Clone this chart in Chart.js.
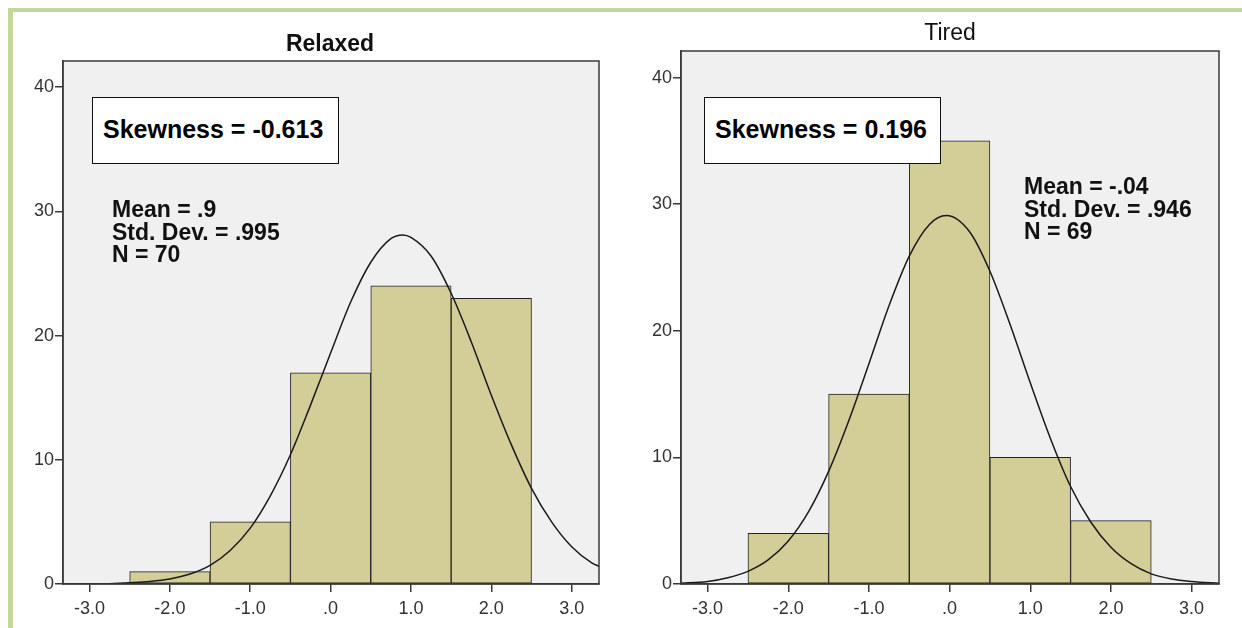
<!DOCTYPE html>
<html>
<head>
<meta charset="utf-8">
<script src="https://cdn.jsdelivr.net/npm/chart.js@4/dist/chart.umd.min.js"></script>
<style>
  html, body { margin: 0; padding: 0; background: #ffffff; }
  body { width: 1242px; height: 628px; position: relative; overflow: hidden; font-family: "Liberation Sans", Arial, sans-serif; }
  canvas { position: absolute; top: 0; }
  #c1 { left: 0; }
  #c2 { left: 620px; }
  .gline { position: absolute; background: #c4d79b; }
  .title { position: absolute; font-size: 23px; line-height: 26px; color: #111; text-align: center; width: 200px; }
  .skew { position: absolute; background: #fff; border: 1.5px solid #111; box-sizing: border-box; font-weight: bold; font-size: 25px; color: #000; line-height: 63px; padding-left: 10px; white-space: nowrap; }
  .stats { position: absolute; font-weight: bold; font-size: 23px; line-height: 22.7px; color: #111; white-space: nowrap; }
</style>
</head>
<body>
<div class="gline" style="left:8px; top:8px; width:1234px; height:4px;"></div>
<div class="gline" style="left:8px; top:8px; width:5px; height:620px;"></div>

<canvas id="c1" width="620" height="628"></canvas>
<canvas id="c2" width="622" height="628"></canvas>

<div class="title" style="left:230px; top:30px; font-weight:bold;">Relaxed</div>
<div class="title" style="left:850px; top:19px;">Tired</div>

<div class="skew" style="left:92px; top:97px; width:247px; height:67px;">Skewness = -0.613</div>
<div class="skew" style="left:704px; top:97px; width:237px; height:67px;">Skewness = 0.196</div>

<div class="stats" style="left:112px; top:198px;">Mean = .9<br>Std. Dev. = .995<br>N = 70</div>
<div class="stats" style="left:1024px; top:175px;">Mean = -.04<br>Std. Dev. = .946<br>N = 69</div>

<script>
// ---- data ----
const binCenters = [-2, -1, 0, 1, 2];
const relaxedCounts = [1, 5, 17, 24, 23];
const tiredCounts = [4, 15, 35, 10, 5];

const relaxedCurveX = [-3.35, -3.0, -2.75, -2.5, -2.25, -2.0, -1.75, -1.5, -1.25, -1.0, -0.75, -0.5, -0.25, 0, 0.25, 0.5, 0.75, 0.9, 1.0, 1.25, 1.5, 1.75, 2.0, 2.25, 2.5, 2.75, 3.0, 3.25, 3.35];
const relaxedCurveY = [0.0, 0.0, 0.03, 0.1, 0.2, 0.4, 0.8, 1.5, 2.7, 4.5, 7.1, 10.4, 14.4, 18.6, 22.7, 25.9, 27.8, 28.1, 27.9, 26.4, 23.4, 19.5, 15.2, 11.2, 7.7, 5.0, 3.0, 1.7, 1.4];

const tiredCurveX = [-3.35, -3.0, -2.75, -2.5, -2.25, -2.0, -1.75, -1.5, -1.25, -1.0, -0.75, -0.5, -0.25, -0.04, 0.25, 0.5, 0.75, 1.0, 1.25, 1.5, 1.75, 2.0, 2.25, 2.5, 2.75, 3.0, 3.35];
const tiredCurveY = [0.05, 0.2, 0.5, 1.0, 1.9, 3.4, 5.7, 8.9, 12.9, 17.4, 22.0, 25.9, 28.4, 29.1, 27.8, 24.7, 20.5, 15.9, 11.5, 7.7, 4.9, 2.9, 1.6, 0.8, 0.4, 0.2, 0.05];

const xTickValues = [-3, -2, -1, 0, 1, 2, 3];
const xTickLabels = ['-3.0', '-2.0', '-1.0', '.0', '1.0', '2.0', '3.0'];
const yTickValues = [0, 10, 20, 30, 40];
const yTickLabels = ['0', '10', '20', '30', '40'];

// ---- styling ----
const tickFont = { family: '"Liberation Sans Narrow", "Liberation Sans", Arial, sans-serif', size: 18 };
Chart.defaults.font.family = '"Liberation Sans", Arial, sans-serif';
Chart.defaults.color = '#333';

const plotFrame = {
  id: 'plotFrame',
  beforeDraw(chart) {
    const a = chart.chartArea, ctx = chart.ctx;
    ctx.save();
    ctx.fillStyle = '#f0f0f0';
    ctx.fillRect(a.left, a.top, a.right - a.left, a.bottom - a.top);
    ctx.restore();
  },
  afterDatasetsDraw(chart) {
    const a = chart.chartArea, ctx = chart.ctx;
    ctx.save();
    ctx.strokeStyle = '#3a3a3a';
    ctx.lineWidth = 1.5;
    ctx.strokeRect(a.left, a.top, a.right - a.left, a.bottom - a.top);
    ctx.restore();
  }
};

function makeChart(id, counts, cx, cy, yWidth, pad) {
  const bars = binCenters.map((x, i) => ({ x: x, y: counts[i] }));
  const curve = cx.map((x, i) => ({ x: x, y: cy[i] }));
  return new Chart(document.getElementById(id), {
    type: 'bar',
    data: {
      datasets: [
        {
          type: 'line',
          data: curve,
          borderColor: '#1a1a1a',
          borderWidth: 1.5,
          pointRadius: 0,
          fill: false,
          cubicInterpolationMode: 'monotone',
          order: 1
        },
        {
          type: 'bar',
          data: bars,
          backgroundColor: 'rgb(211,206,151)',
          borderColor: '#222',
          borderWidth: 1,
          borderSkipped: false,
          categoryPercentage: 1.0,
          barPercentage: 1.0,
          order: 2
        }
      ]
    },
    options: {
      responsive: false,
      animation: false,
      devicePixelRatio: 1,
      layout: { padding: pad },
      plugins: { legend: { display: false }, tooltip: { enabled: false }, title: { display: false } },
      scales: {
        x: {
          type: 'linear',
          min: -3.33,
          max: 3.34,
          offset: false,
          afterBuildTicks: (s) => { s.ticks = xTickValues.map(v => ({ value: v })); },
          afterFit: (s) => { s.height = 40; },
          ticks: {
            callback: (v, i) => xTickLabels[i],
            color: '#333',
            padding: 6,
            maxRotation: 0,
            autoSkip: false,
            font: tickFont
          },
          grid: { drawOnChartArea: false, drawTicks: true, tickLength: 8, color: '#3a3a3a', lineWidth: 1.5, offset: false },
          border: { display: true, color: '#3a3a3a', width: 1.5 }
        },
        y: {
          type: 'linear',
          min: 0,
          max: 42.1,
          afterBuildTicks: (s) => { s.ticks = yTickValues.map(v => ({ value: v })); },
          afterFit: (s) => { s.width = yWidth; },
          ticks: {
            callback: (v, i) => yTickLabels[i],
            color: '#333',
            padding: 1,
            font: tickFont
          },
          grid: { drawOnChartArea: false, drawTicks: true, tickLength: 8, color: '#3a3a3a', lineWidth: 1.5 },
          border: { display: true, color: '#3a3a3a', width: 1.5 }
        }
      }
    },
    plugins: [plotFrame]
  });
}

makeChart('c1', relaxedCounts, relaxedCurveX, relaxedCurveY, 63, { top: 61, right: 21, bottom: 4, left: 0 });
makeChart('c2', tiredCounts, tiredCurveX, tiredCurveY, 61, { top: 51, right: 23, bottom: 4, left: 0 });
</script>
</body>
</html>
